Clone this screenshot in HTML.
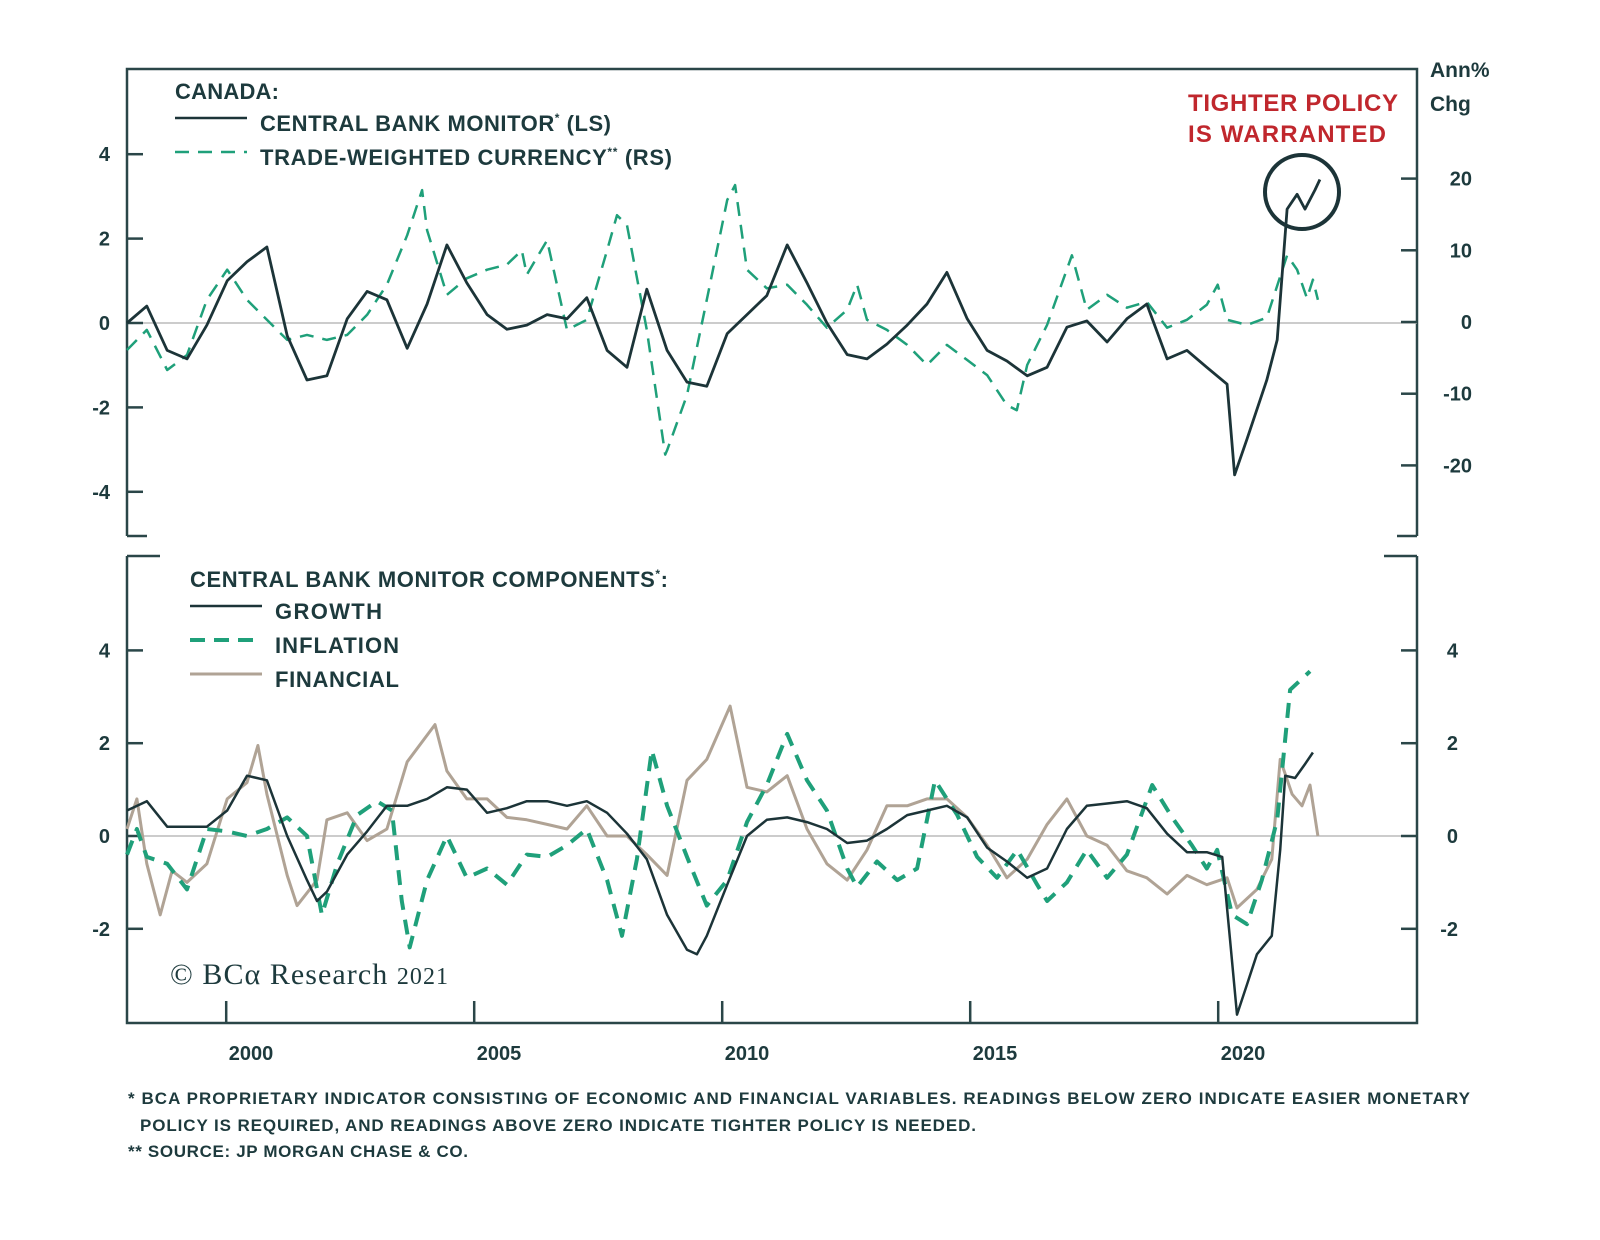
<!DOCTYPE html>
<html><head><meta charset="utf-8">
<style>
html,body{margin:0;padding:0;background:#fff;}
svg{display:block;font-family:"Liberation Sans",sans-serif;}
.t{font-weight:bold;fill:#1d3a3d;}
</style></head>
<body>
<svg id="chart" width="1600" height="1240" viewBox="0 0 1600 1240">
  <g stroke="#2a4648" stroke-width="2.5" fill="none">
    <polyline points="127,536 127,69 1417,69 1417,536"/>
    <line x1="127" y1="536" x2="147" y2="536"/>
    <line x1="1397" y1="536" x2="1417" y2="536"/>
  </g>
  <g stroke="#2a4648" stroke-width="2.5" fill="none">
    <polyline points="127,556 127,1023 1417,1023 1417,556"/>
    <line x1="127" y1="556" x2="160" y2="556"/>
    <line x1="1384" y1="556" x2="1417" y2="556"/>
  </g>
  <g id="axes"></g>
  <g id="series"></g>

  <g>
    <text class="t" x="175" y="99" font-size="22" textLength="104">CANADA:</text>
    <line x1="175" y1="118" x2="247" y2="118" stroke="#1c3438" stroke-width="2.5"/>
    <text class="t" x="260" y="131" font-size="22" textLength="351">CENTRAL BANK MONITOR<tspan font-size="12" dy="-9">*</tspan><tspan dy="9"> (LS)</tspan></text>
    <line x1="175" y1="152" x2="247" y2="152" stroke="#1fa07a" stroke-width="2.5" stroke-dasharray="14,9"/>
    <text class="t" x="260" y="165" font-size="22" textLength="412">TRADE-WEIGHTED CURRENCY<tspan font-size="12" dy="-9">**</tspan><tspan dy="9"> (RS)</tspan></text>
  </g>
  <g>
    <text class="t" x="190" y="587" font-size="22" textLength="478">CENTRAL BANK MONITOR COMPONENTS<tspan font-size="12" dy="-9">*</tspan><tspan dy="9">:</tspan></text>
    <line x1="190" y1="606" x2="262" y2="606" stroke="#1c3438" stroke-width="2.5"/>
    <text class="t" x="275" y="619" font-size="22" textLength="107">GROWTH</text>
    <line x1="190" y1="640" x2="262" y2="640" stroke="#1fa07a" stroke-width="4" stroke-dasharray="15,9"/>
    <text class="t" x="275" y="653" font-size="22" textLength="124">INFLATION</text>
    <line x1="190" y1="674" x2="262" y2="674" stroke="#b0a395" stroke-width="3"/>
    <text class="t" x="275" y="687" font-size="22" textLength="124">FINANCIAL</text>
  </g>

  <text class="t" x="1430" y="77" font-size="21">Ann%</text>
  <text class="t" x="1430" y="111" font-size="21">Chg</text>
  <text x="1188" y="111" font-size="24" font-weight="bold" fill="#c0272d" textLength="210">TIGHTER POLICY</text>
  <text x="1188" y="142" font-size="24" font-weight="bold" fill="#c0272d" textLength="198">IS WARRANTED</text>
  <circle cx="1302" cy="192" r="37" fill="none" stroke="#1c3438" stroke-width="4"/>

  <text x="170" y="984" font-size="30" fill="#1d3a3d" font-family="Liberation Serif, serif" textLength="278">© BCα Research <tspan font-size="24">2021</tspan></text>

  <g class="t" font-size="17">
    <text x="128" y="1104" textLength="1342">*  BCA PROPRIETARY INDICATOR CONSISTING OF ECONOMIC AND FINANCIAL VARIABLES. READINGS BELOW ZERO INDICATE EASIER MONETARY</text>
    <text x="140" y="1131" textLength="836">POLICY IS REQUIRED, AND READINGS ABOVE ZERO INDICATE TIGHTER POLICY IS NEEDED.</text>
    <text x="128" y="1157" textLength="340">** SOURCE: JP MORGAN CHASE &amp; CO.</text>
  </g>
</svg>
<script>
const xTickYears = [2000, 2005, 2010, 2015, 2020];
const topLeftTicks = [4, 2, 0, -2, -4];
const topRightTicks = [20, 10, 0, -10, -20];
const bottomTicks = [4, 2, 0, -2];

const cbmYears = [1998.00,1998.40,1998.81,1999.21,1999.61,2000.02,2000.42,2000.82,2001.23,2001.63,2002.03,2002.44,2002.84,2003.24,2003.65,2004.05,2004.45,2004.85,2005.26,2005.66,2006.06,2006.47,2006.87,2007.27,2007.68,2008.08,2008.48,2008.89,2009.29,2009.69,2010.10,2010.50,2010.90,2011.31,2011.71,2012.11,2012.52,2012.92,2013.32,2013.73,2014.13,2014.53,2014.94,2015.34,2015.74,2016.15,2016.55,2016.95,2017.35,2017.76,2018.16,2018.56,2018.97,2019.37,2019.77,2020.18,2020.33,2020.58,2020.98,2021.19,2021.39,2021.59,2021.75,2021.95,2022.05];
const cbmValues = [0.0,0.4,-0.65,-0.85,-0.05,1.0,1.45,1.8,-0.3,-1.35,-1.25,0.1,0.75,0.55,-0.6,0.45,1.85,0.95,0.2,-0.15,-0.05,0.2,0.1,0.6,-0.65,-1.05,0.8,-0.65,-1.4,-1.5,-0.25,0.2,0.65,1.85,0.95,0.0,-0.75,-0.85,-0.5,-0.05,0.45,1.2,0.1,-0.65,-0.9,-1.25,-1.05,-0.1,0.05,-0.45,0.1,0.45,-0.85,-0.65,-1.05,-1.45,-3.6,-2.75,-1.35,-0.4,2.7,3.05,2.7,3.15,3.4];

const fxYears = [1998.00,1998.40,1998.81,1999.21,1999.61,2000.02,2000.42,2000.82,2001.23,2001.63,2002.03,2002.44,2002.84,2003.24,2003.65,2003.95,2004.05,2004.45,2004.85,2005.26,2005.66,2005.96,2006.06,2006.47,2006.87,2007.27,2007.68,2007.88,2008.08,2008.48,2008.85,2008.89,2009.29,2009.69,2010.10,2010.26,2010.50,2010.90,2011.31,2011.71,2012.11,2012.52,2012.72,2012.92,2013.32,2013.73,2014.13,2014.53,2014.94,2015.34,2015.74,2015.94,2016.15,2016.55,2017.05,2017.35,2017.76,2018.16,2018.56,2018.97,2019.37,2019.77,2019.99,2020.18,2020.58,2020.98,2021.39,2021.59,2021.79,2021.91,2022.01];
const fxValues = [-3.9,-1.1,-6.7,-4.6,3.1,7.3,3.1,0.3,-2.5,-1.8,-2.5,-1.8,1.0,5.2,12.1,18.4,12.8,3.8,6.1,7.3,8.0,10.0,6.6,11.4,-1.1,0.3,10.0,14.9,13.5,-1.1,-18.5,-17.9,-10.2,3.1,17.0,19.1,7.3,4.7,5.2,2.4,-0.8,1.7,5.2,0.3,-1.1,-3.2,-6.0,-3.2,-5.3,-7.4,-11.6,-12.3,-6.0,-0.4,9.3,1.7,3.8,2.0,2.8,-0.8,0.3,2.4,5.2,0.3,-0.4,0.6,9.3,7.3,3.3,5.9,3.1];

const growthYears = [1998.00,1998.40,1998.81,1999.21,1999.61,2000.02,2000.42,2000.82,2001.23,2001.63,2001.83,2002.03,2002.44,2002.84,2003.24,2003.65,2004.05,2004.45,2004.85,2005.26,2005.66,2006.06,2006.47,2006.87,2007.27,2007.68,2008.08,2008.48,2008.89,2009.29,2009.49,2009.69,2010.10,2010.50,2010.90,2011.31,2011.71,2012.11,2012.52,2012.92,2013.32,2013.73,2014.13,2014.53,2014.94,2015.34,2015.74,2016.15,2016.55,2016.95,2017.35,2017.76,2018.16,2018.56,2018.97,2019.37,2019.77,2020.08,2020.24,2020.38,2020.58,2020.78,2021.08,2021.25,2021.35,2021.55,2021.75,2021.91];
const growthValues = [0.55,0.75,0.2,0.2,0.2,0.55,1.3,1.2,0.0,-0.95,-1.4,-1.2,-0.4,0.1,0.65,0.65,0.8,1.05,1.0,0.5,0.6,0.75,0.75,0.65,0.75,0.5,0.05,-0.5,-1.7,-2.45,-2.55,-2.15,-1.05,0.0,0.35,0.4,0.3,0.15,-0.15,-0.1,0.15,0.45,0.55,0.65,0.4,-0.25,-0.55,-0.9,-0.7,0.15,0.65,0.7,0.75,0.6,0.05,-0.35,-0.35,-0.45,-2.25,-3.85,-3.2,-2.55,-2.15,-0.3,1.3,1.25,1.55,1.8];

const inflationYears = [1998.00,1998.20,1998.40,1998.81,1999.21,1999.61,2000.02,2000.42,2000.82,2001.23,2001.63,2001.93,2002.24,2002.64,2003.04,2003.34,2003.54,2003.70,2004.05,2004.45,2004.85,2005.26,2005.66,2006.06,2006.47,2006.87,2007.27,2007.68,2007.98,2008.28,2008.58,2008.89,2009.29,2009.69,2010.10,2010.50,2010.90,2011.31,2011.71,2012.11,2012.52,2012.72,2013.12,2013.53,2013.93,2014.29,2014.74,2015.14,2015.54,2015.95,2016.35,2016.55,2016.95,2017.35,2017.76,2018.16,2018.67,2019.07,2019.47,2019.77,2019.98,2020.28,2020.58,2020.88,2021.19,2021.45,2021.65,2021.85];
const inflationValues = [-0.4,0.15,-0.45,-0.6,-1.15,0.15,0.1,0.0,0.15,0.4,0.0,-1.7,-0.6,0.45,0.75,0.55,-1.4,-2.4,-0.95,0.0,-0.9,-0.7,-1.05,-0.4,-0.45,-0.2,0.15,-0.95,-2.15,-0.5,1.85,0.65,-0.45,-1.5,-0.95,0.3,1.1,2.2,1.2,0.55,-0.7,-1.1,-0.55,-0.95,-0.7,1.2,0.45,-0.45,-0.9,-0.3,-1.05,-1.4,-1.0,-0.3,-0.9,-0.4,1.1,0.4,-0.2,-0.7,-0.3,-1.7,-1.9,-0.95,0.35,3.15,3.35,3.55];

const financialYears = [1998.00,1998.20,1998.40,1998.67,1998.91,1999.21,1999.61,2000.02,2000.42,2000.64,2000.82,2001.23,2001.43,2001.83,2002.03,2002.44,2002.84,2003.24,2003.65,2004.21,2004.45,2004.85,2005.26,2005.66,2006.06,2006.47,2006.87,2007.27,2007.68,2008.08,2008.48,2008.89,2009.29,2009.69,2010.16,2010.50,2010.90,2011.31,2011.71,2012.11,2012.52,2012.92,2013.32,2013.73,2014.13,2014.53,2014.94,2015.34,2015.74,2016.15,2016.55,2016.95,2017.35,2017.76,2018.16,2018.56,2018.97,2019.37,2019.77,2020.18,2020.38,2020.78,2021.08,2021.25,2021.49,2021.69,2021.85,2022.01];
const financialValues = [0.15,0.8,-0.6,-1.7,-0.75,-1.0,-0.6,0.8,1.15,1.95,0.9,-0.85,-1.5,-0.95,0.35,0.5,-0.1,0.15,1.6,2.4,1.4,0.8,0.8,0.4,0.35,0.25,0.15,0.65,0.0,0.0,-0.4,-0.85,1.2,1.65,2.8,1.05,0.95,1.3,0.15,-0.6,-0.95,-0.3,0.65,0.65,0.8,0.8,0.4,-0.2,-0.9,-0.5,0.25,0.8,0.0,-0.2,-0.75,-0.9,-1.25,-0.85,-1.05,-0.9,-1.55,-1.15,-0.5,1.65,0.9,0.65,1.1,0.0];

const NS = 'http://www.w3.org/2000/svg';
const X0 = 127, PX_PER_YEAR = 49.6, YEAR0 = 1998;
function xScale(y){ return X0 + (y - YEAR0) * PX_PER_YEAR; }
function yTopL(v){ return 323 - v * 42.2; }
function yTopR(v){ return 322 - v * 7.17; }
function yBot(v){ return 836 - v * 46.4; }

const axes = document.getElementById('axes');
const series = document.getElementById('series');
function mk(tag, attrs, parent){
  const e = document.createElementNS(NS, tag);
  for (const k in attrs) e.setAttribute(k, attrs[k]);
  parent.appendChild(e);
  return e;
}
function label(x, y, txt, anchor){
  const t = mk('text', {x:x, y:y, 'text-anchor':anchor, 'font-size':'20', 'font-weight':'bold', fill:'#1d3a3d'}, axes);
  t.textContent = txt;
  return t;
}

let z1 = mk('line', {x1:127, x2:1417, y1:yTopL(0), y2:yTopL(0), stroke:'#bbbbbb', 'stroke-width':1.5}, axes);


let z2 = mk('line', {x1:127, x2:1417, y1:yBot(0), y2:yBot(0), stroke:'#bbbbbb', 'stroke-width':1.5}, axes);



topLeftTicks.forEach(v => {
  const y = yTopL(v);
  const l = mk('line', {x1:127, x2:143, y1:y, y2:y, stroke:'#2a4648', 'stroke-width':2.5}, axes);
  
  
  const t = label(110, y + 7, String(v), 'end');
  
  
});
topRightTicks.forEach(v => {
  const y = yTopR(v);
  const l = mk('line', {x1:1401, x2:1417, y1:y, y2:y, stroke:'#2a4648', 'stroke-width':2.5}, axes);
  
  
  const t = label(1472, y + 7, String(v), 'end');
  
  
});
bottomTicks.forEach(v => {
  const y = yBot(v);
  const l = mk('line', {x1:127, x2:143, y1:y, y2:y, stroke:'#2a4648', 'stroke-width':2.5}, axes);
  
  
  const r = mk('line', {x1:1401, x2:1417, y1:y, y2:y, stroke:'#2a4648', 'stroke-width':2.5}, axes);
  
  
  const t = label(110, y + 7, String(v), 'end');
  
  
  const t2 = label(1458, y + 7, String(v), 'end');
  
  
});
xTickYears.forEach(yr => {
  const x = xScale(yr);
  const l = mk('line', {x1:x, x2:x, y1:1001, y2:1023, stroke:'#2a4648', 'stroke-width':2.5}, axes);
  
  
  const t = label(xScale(yr + 0.5), 1060, String(yr), 'middle');
  
  
});

function path(years, vals, ys, style, name){
  let d = '';
  years.forEach((yr, i) => { d += (i ? 'L' : 'M') + xScale(yr).toFixed(1) + ',' + ys(vals[i]).toFixed(1); });
  const p = mk('path', Object.assign({d:d, fill:'none', 'stroke-linejoin':'round'}, style), series);
  
  
}
path(fxYears, fxValues, yTopR, {stroke:'#1fa07a', 'stroke-width':2.5, 'stroke-dasharray':'14,9'}, 'currency-line');
path(cbmYears, cbmValues, yTopL, {stroke:'#1c3438', 'stroke-width':2.8}, 'cbm-line');
path(financialYears, financialValues, yBot, {stroke:'#b0a395', 'stroke-width':3}, 'financial-line');
path(inflationYears, inflationValues, yBot, {stroke:'#1fa07a', 'stroke-width':4, 'stroke-dasharray':'15,10'}, 'inflation-line');
path(growthYears, growthValues, yBot, {stroke:'#1c3438', 'stroke-width':2.5}, 'growth-line');
</script>
</body></html>
